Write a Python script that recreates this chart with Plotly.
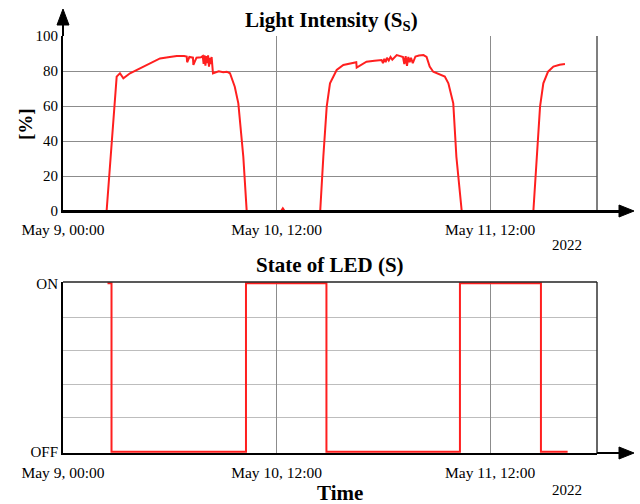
import plotly.graph_objects as go

# ---------------- data (hours since axis start) ----------------
light_t = [4.9, 5.47, 5.84, 6.03, 6.4, 6.78, 7.53, 8.65, 9.78, 10.9, 12.0, 12.78, 13.6, 13.9, 13.95, 14.2,
           14.6, 14.65, 15.0, 15.5, 15.7, 15.8, 15.9, 16.0, 16.1, 16.2, 16.3, 16.4, 16.5, 16.6, 16.7, 16.85,
           17.5, 18.0, 18.4, 18.76, 19.3, 19.7, 20.26, 20.64, 24.5, 24.7, 24.9, 28.9, 29.25, 29.63, 30.0, 30.75,
           31.5, 32.6, 32.95, 33.0, 34.1, 35.0, 35.8, 35.95, 36.1, 36.25, 36.4, 36.6, 36.8, 37.0, 37.5, 37.9,
           38.2, 38.35, 38.5, 38.65, 38.8, 38.95, 39.1, 39.3, 39.6, 40.0, 40.5, 40.85, 41.2, 41.6, 42.4, 42.9,
           43.3, 43.85, 44.2, 44.8, 52.85, 53.2, 53.6, 53.97, 54.5, 55.1, 55.8, 56.4]
light_v = [0, 40.6, 69, 76.8, 78.7, 75.8, 78.7, 81.5, 84.4, 87.2, 88.0, 88.6, 88.6, 88.2, 85.0, 88.0,
           87.6, 83.5, 87.6, 87.8, 88.5, 84.0, 89.0, 83.0, 88.5, 84.5, 89.0, 82.5, 87.5, 84.0, 88.0, 78.7,
           79.8, 79.3, 79.6, 78.7, 71.0, 61.5, 31.0, 0, 0, 1.5, 0, 0, 31.0, 59.6, 73.0, 80.6,
           83.4, 84.8, 85.0, 82.0, 85.3, 85.8, 86.3, 84.5, 87.0, 85.0, 87.5, 86.0, 88.0, 86.5, 89.1, 88.5,
           88.0, 84.0, 88.5, 83.0, 88.0, 85.0, 87.5, 84.5, 88.3, 88.8, 89.1, 88.0, 82.5, 79.6, 77.7, 76.8,
           73.0, 61.5, 31.0, 0, 0, 31.0, 59.6, 73.0, 79.6, 82.5, 83.6, 84.0]

led_t = [5.0, 5.45, 5.45, 20.56, 20.56, 29.6, 29.6, 44.6, 44.6, 53.7, 53.7, 56.7]
led_state = [1, 1, 0, 0, 1, 1, 0, 0, 1, 1, 0, 0]

x_tickvals = [0, 24, 48]
x_ticktext = ["May 9, 00:00", "May 10, 12:00", "May 11, 12:00"]
y1_tickvals = [0, 20, 40, 60, 80, 100]
y2_tickvals = [0, 1]
y2_ticktext = ["OFF", "ON"]
y2_minor_vals = [0.2, 0.4, 0.6, 0.8]

# ---------------- layout helpers ----------------
W, H = 640, 504
L, R, T, B = 63, 43, 36, 51
PW, PH = W - L - R, H - T - B


def px(xp):
    return (xp - L) / PW


def py(yp):
    return (H - B - yp) / PH


FONT = "Liberation Serif"
RED = "#ff1f1f"

fig = go.Figure()
fig.add_trace(go.Scatter(x=light_t, y=light_v, mode="lines", line=dict(color=RED, width=2),
                         xaxis="x", yaxis="y", showlegend=False, hoverinfo="skip"))
fig.add_trace(go.Scatter(x=led_t, y=led_state, mode="lines", line=dict(color=RED, width=2),
                         xaxis="x2", yaxis="y2", showlegend=False, hoverinfo="skip"))

top_dom = [py(211), 1.0]
bot_dom = [0.0, py(282)]

common_x = dict(range=[0, 60], tickvals=x_tickvals, ticktext=x_ticktext, showline=True,
                linecolor="black", linewidth=2, showgrid=True, gridcolor="#8c8c8c", gridwidth=1,
                zeroline=False, ticks="", tickfont=dict(family=FONT, size=15.5, color="black"),
                fixedrange=True)

fig.update_layout(
    width=W, height=H, margin=dict(l=L, r=R, t=T, b=B, autoexpand=False),
    paper_bgcolor="white", plot_bgcolor="white",
    font=dict(family=FONT, color="black"),
    xaxis=dict(**common_x, anchor="y", domain=[0, 1], ticklabelstandoff=3),
    yaxis=dict(domain=top_dom, range=[0, 100], tickvals=y1_tickvals, showline=True, linecolor="black",
               linewidth=2, showgrid=True, gridcolor="#8c8c8c", gridwidth=1, zeroline=False, ticks="",
               tickfont=dict(family=FONT, size=15, color="black"), anchor="x", fixedrange=True),
    xaxis2=dict(**common_x, anchor="y2", domain=[0, 1], layer="below traces", ticklabelstandoff=4),
    yaxis2=dict(domain=bot_dom, range=[-0.008, 1.008], tickvals=y2_tickvals, ticktext=y2_ticktext,
                showline=True, linecolor="black", linewidth=2, showgrid=False, zeroline=False, ticks="",
                layer="below traces", minor=dict(tickvals=y2_minor_vals, showgrid=True,
                                                 gridcolor="#bdbdbd", gridwidth=1, ticks=""),
                tickfont=dict(family=FONT, size=15, color="black"), anchor="x2", fixedrange=True),
)

shapes = []
# right borders
shapes.append(dict(type="line", xref="paper", yref="paper", x0=1, x1=1, y0=top_dom[0], y1=top_dom[1],
                   line=dict(color="#555555", width=1.5)))
shapes.append(dict(type="line", xref="paper", yref="paper", x0=1, x1=1, y0=bot_dom[0], y1=bot_dom[1],
                   line=dict(color="#333333", width=1.5)))
# top border of LED panel
shapes.append(dict(type="line", xref="paper", yref="paper", x0=0, x1=1, y0=bot_dom[1], y1=bot_dom[1],
                   line=dict(color="#222222", width=1.5)))
# top panel x axis (drawn above the curve) with arrow
shapes.append(dict(type="line", xref="paper", yref="paper", x0=0, x1=px(622), y0=py(211.5), y1=py(211.5),
                   line=dict(color="black", width=3)))
# bottom panel x axis extension with arrow
shapes.append(dict(type="line", xref="paper", yref="paper", x0=1, x1=px(622), y0=py(453), y1=py(453),
                   line=dict(color="black", width=2)))
for ya in (211, 453):
    shapes.append(dict(type="path", xref="paper", yref="paper",
                       path=f"M {px(634)} {py(ya)} L {px(619)} {py(ya-6)} L {px(619)} {py(ya+6)} Z",
                       fillcolor="black", line=dict(color="black", width=1)))
# y axis arrow (top panel)
shapes.append(dict(type="line", xref="paper", yref="paper", x0=0, x1=0, y0=1, y1=py(22),
                   line=dict(color="black", width=2)))
shapes.append(dict(type="path", xref="paper", yref="paper",
                   path=f"M {px(63)} {py(9)} L {px(57)} {py(25)} L {px(69)} {py(25)} Z",
                   fillcolor="black", line=dict(color="black", width=1)))
fig.update_layout(shapes=shapes)

annotations = [
    dict(text="<b>Light Intensity (S<sub>S</sub>)</b>", x=px(331), y=py(21), xref="paper", yref="paper",
         showarrow=False, font=dict(family=FONT, size=21), xanchor="center", yanchor="middle"),
    dict(text="<b>State of LED (S)</b>", x=px(330), y=py(265), xref="paper", yref="paper",
         showarrow=False, font=dict(family=FONT, size=21), xanchor="center", yanchor="middle"),
    dict(text="<b>Time</b>", x=px(340), y=py(493), xref="paper", yref="paper",
         showarrow=False, font=dict(family=FONT, size=21), xanchor="center", yanchor="middle"),
    dict(text="<b>[%]</b>", x=px(25), y=py(124), xref="paper", yref="paper", textangle=-90,
         showarrow=False, font=dict(family=FONT, size=19), xanchor="center", yanchor="middle"),
    dict(text="2022", x=px(567), y=py(245), xref="paper", yref="paper",
         showarrow=False, font=dict(family=FONT, size=15), xanchor="center", yanchor="middle"),
    dict(text="2022", x=px(567), y=py(490), xref="paper", yref="paper",
         showarrow=False, font=dict(family=FONT, size=15), xanchor="center", yanchor="middle"),
]
fig.update_layout(annotations=annotations)

fig.write_html("out.html", config={"displayModeBar": False},
               post_script="document.body.style.margin='0';document.body.style.overflow='hidden';")
